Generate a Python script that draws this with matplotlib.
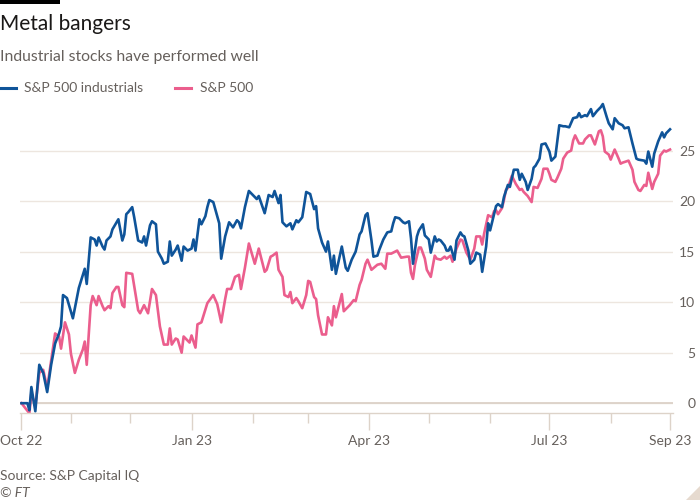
import matplotlib
matplotlib.use("Agg")
import matplotlib.pyplot as plt
from matplotlib.lines import Line2D
from matplotlib.patches import Rectangle, Polygon
import pandas as pd

plt.rcParams['font.family'] = ['Lato', 'DejaVu Sans']

# S&P 500 industrials, % change since start
ind_dates = [
    "2022-10-07", "2022-10-10", "2022-10-11", "2022-10-12", "2022-10-14", "2022-10-16", "2022-10-18",
    "2022-10-20", "2022-10-22", "2022-10-24", "2022-10-26", "2022-10-27", "2022-10-28", "2022-10-30",
    "2022-11-02", "2022-11-05", "2022-11-08", "2022-11-09", "2022-11-11", "2022-11-13", "2022-11-14",
    "2022-11-15", "2022-11-17", "2022-11-18", "2022-11-19", "2022-11-21", "2022-11-22", "2022-11-25",
    "2022-11-27", "2022-11-28", "2022-11-29", "2022-11-30", "2022-12-02", "2022-12-03", "2022-12-05",
    "2022-12-07", "2022-12-08", "2022-12-09", "2022-12-11", "2022-12-12", "2022-12-14", "2022-12-15",
    "2022-12-17", "2022-12-18", "2022-12-20", "2022-12-21", "2022-12-22", "2022-12-24", "2022-12-25",
    "2022-12-27", "2022-12-28", "2022-12-30", "2023-01-01", "2023-01-02", "2023-01-03", "2023-01-05",
    "2023-01-06", "2023-01-08", "2023-01-09", "2023-01-10", "2023-01-12", "2023-01-13", "2023-01-15",
    "2023-01-16", "2023-01-18", "2023-01-20", "2023-01-22", "2023-01-24", "2023-01-25", "2023-01-26",
    "2023-01-28", "2023-01-30", "2023-02-02", "2023-02-03", "2023-02-04", "2023-02-07", "2023-02-09",
    "2023-02-11", "2023-02-12", "2023-02-14", "2023-02-15", "2023-02-16", "2023-02-18", "2023-02-20",
    "2023-02-21", "2023-02-23", "2023-02-24", "2023-02-26", "2023-02-28", "2023-03-02", "2023-03-04",
    "2023-03-05", "2023-03-06", "2023-03-08", "2023-03-10", "2023-03-11", "2023-03-13", "2023-03-14",
    "2023-03-15", "2023-03-18", "2023-03-20", "2023-03-21", "2023-03-23", "2023-03-25", "2023-03-27",
    "2023-03-28", "2023-03-30", "2023-03-31", "2023-04-02", "2023-04-03", "2023-04-05", "2023-04-06",
    "2023-04-08", "2023-04-10", "2023-04-12", "2023-04-13", "2023-04-14", "2023-04-16", "2023-04-18",
    "2023-04-19", "2023-04-21", "2023-04-22", "2023-04-23", "2023-04-25", "2023-04-26", "2023-04-28",
    "2023-04-29", "2023-05-01", "2023-05-02", "2023-05-04", "2023-05-05", "2023-05-06", "2023-05-07",
    "2023-05-09", "2023-05-10", "2023-05-11", "2023-05-12", "2023-05-14", "2023-05-15", "2023-05-17",
    "2023-05-18", "2023-05-19", "2023-05-21", "2023-05-22", "2023-05-24", "2023-05-25", "2023-05-27",
    "2023-05-28", "2023-05-30", "2023-05-31", "2023-06-01", "2023-06-02", "2023-06-04", "2023-06-05",
    "2023-06-07", "2023-06-08", "2023-06-10", "2023-06-11", "2023-06-13", "2023-06-15", "2023-06-16",
    "2023-06-17", "2023-06-19", "2023-06-20", "2023-06-22", "2023-06-23", "2023-06-24", "2023-06-26",
    "2023-06-27", "2023-06-29", "2023-07-01", "2023-07-02", "2023-07-04", "2023-07-06", "2023-07-08",
    "2023-07-09", "2023-07-11", "2023-07-13", "2023-07-15", "2023-07-16", "2023-07-17", "2023-07-19",
    "2023-07-20", "2023-07-22", "2023-07-23", "2023-07-25", "2023-07-27", "2023-07-28", "2023-07-30",
    "2023-07-31", "2023-08-02", "2023-08-03", "2023-08-05", "2023-08-07", "2023-08-08", "2023-08-10",
    "2023-08-12", "2023-08-14", "2023-08-15", "2023-08-18", "2023-08-19", "2023-08-20", "2023-08-22",
    "2023-08-23", "2023-08-25", "2023-08-27", "2023-08-28", "2023-08-29", "2023-08-31",
]
ind_values = [
    0.0, 0.0, -0.7, 1.6, -0.8, 3.8, 3.0,
    1.1, 3.8, 5.9, 6.9, 7.6, 10.7, 10.4,
    8.4, 11.4, 13.3, 11.8, 16.4, 16.2, 15.6,
    16.4, 15.5, 15.2, 16.1, 16.5, 17.2, 18.2,
    16.1, 16.7, 18.7, 18.9, 19.4, 18.4, 16.1,
    15.9, 16.5, 15.6, 17.6, 18.0, 17.7, 15.0,
    14.3, 13.8, 14.0, 16.0, 14.6, 15.2, 15.6,
    14.1, 15.5, 15.1, 15.3, 16.2, 15.1, 18.2,
    17.7, 18.5, 19.4, 20.1, 19.9, 19.2, 17.8,
    14.3, 16.5, 17.9, 17.4, 18.1, 17.9, 17.3,
    19.4, 21.0, 20.4, 20.2, 20.5, 18.8, 20.6,
    20.4, 21.0, 19.8, 20.6, 17.9, 17.5, 17.8,
    17.2, 18.1, 17.9, 18.4, 20.9, 20.7, 19.2,
    19.5, 17.3, 15.9, 15.0, 16.0, 13.2, 14.6,
    12.8, 15.5, 13.4, 13.1, 14.2, 15.0, 16.7,
    17.0, 18.6, 18.8, 16.1, 14.5, 14.6, 15.2,
    16.2, 16.9, 17.0, 17.8, 18.4, 18.3, 17.9,
    17.8, 18.0, 16.3, 13.8, 16.5, 17.1, 17.7,
    16.6, 16.2, 14.9, 16.5, 16.0, 16.2, 16.1,
    15.6, 15.1, 15.1, 15.5, 14.2, 16.1, 16.9,
    16.6, 16.5, 15.1, 13.8, 14.2, 14.9, 14.7,
    13.0, 15.5, 17.8, 17.1, 17.9, 19.5, 19.7,
    19.4, 20.4, 21.6, 21.4, 23.1, 23.1, 22.1,
    22.7, 21.9, 21.1, 22.2, 23.3, 23.5, 24.2,
    25.6, 25.7, 24.9, 24.0, 24.4, 27.5, 27.4,
    27.4, 27.3, 28.2, 28.3, 28.7, 28.3, 28.5,
    28.4, 29.1, 28.4, 28.9, 29.3, 29.6, 28.3,
    27.7, 27.1, 28.2, 27.7, 27.5, 27.2, 27.3,
    25.7, 24.2, 24.1, 24.0, 23.7, 24.9, 23.4,
    24.7, 25.9, 26.8, 26.3, 26.7, 27.1,
]

# S&P 500, % change since start
spx_dates = [
    "2022-10-07", "2022-10-09", "2022-10-11", "2022-10-12", "2022-10-14", "2022-10-16", "2022-10-18",
    "2022-10-20", "2022-10-24", "2022-10-26", "2022-10-27", "2022-10-29", "2022-10-31", "2022-11-01",
    "2022-11-03", "2022-11-05", "2022-11-07", "2022-11-08", "2022-11-09", "2022-11-11", "2022-11-12",
    "2022-11-14", "2022-11-15", "2022-11-17", "2022-11-18", "2022-11-20", "2022-11-21", "2022-11-22",
    "2022-11-24", "2022-11-25", "2022-11-27", "2022-11-28", "2022-11-29", "2022-12-02", "2022-12-05",
    "2022-12-06", "2022-12-08", "2022-12-10", "2022-12-12", "2022-12-14", "2022-12-16", "2022-12-18",
    "2022-12-20", "2022-12-21", "2022-12-22", "2022-12-24", "2022-12-25", "2022-12-27", "2022-12-28",
    "2022-12-31", "2023-01-01", "2023-01-03", "2023-01-04", "2023-01-06", "2023-01-09", "2023-01-12",
    "2023-01-14", "2023-01-16", "2023-01-18", "2023-01-19", "2023-01-21", "2023-01-23", "2023-01-25",
    "2023-01-26", "2023-01-28", "2023-01-30", "2023-02-02", "2023-02-04", "2023-02-07", "2023-02-08",
    "2023-02-10", "2023-02-11", "2023-02-13", "2023-02-14", "2023-02-16", "2023-02-17", "2023-02-19",
    "2023-02-20", "2023-02-21", "2023-02-23", "2023-02-24", "2023-02-26", "2023-02-28", "2023-03-01",
    "2023-03-02", "2023-03-04", "2023-03-05", "2023-03-06", "2023-03-08", "2023-03-10", "2023-03-11",
    "2023-03-13", "2023-03-14", "2023-03-15", "2023-03-18", "2023-03-19", "2023-03-22", "2023-03-24",
    "2023-03-25", "2023-03-27", "2023-03-28", "2023-03-30", "2023-03-31", "2023-04-02", "2023-04-05",
    "2023-04-07", "2023-04-09", "2023-04-10", "2023-04-12", "2023-04-14", "2023-04-15", "2023-04-17",
    "2023-04-20", "2023-04-21", "2023-04-22", "2023-04-23", "2023-04-24", "2023-04-26", "2023-04-27",
    "2023-04-29", "2023-04-30", "2023-05-02", "2023-05-04", "2023-05-05", "2023-05-07", "2023-05-09",
    "2023-05-10", "2023-05-12", "2023-05-13", "2023-05-15", "2023-05-17", "2023-05-18", "2023-05-20",
    "2023-05-22", "2023-05-24", "2023-05-25", "2023-05-27", "2023-05-28", "2023-05-29", "2023-05-31",
    "2023-06-02", "2023-06-03", "2023-06-04", "2023-06-05", "2023-06-07", "2023-06-08", "2023-06-09",
    "2023-06-10", "2023-06-12", "2023-06-14", "2023-06-16", "2023-06-17", "2023-06-18", "2023-06-20",
    "2023-06-22", "2023-06-23", "2023-06-25", "2023-06-27", "2023-06-28", "2023-06-30", "2023-07-01",
    "2023-07-02", "2023-07-04", "2023-07-05", "2023-07-07", "2023-07-08", "2023-07-10", "2023-07-12",
    "2023-07-13", "2023-07-14", "2023-07-16", "2023-07-18", "2023-07-19", "2023-07-21", "2023-07-22",
    "2023-07-24", "2023-07-26", "2023-07-27", "2023-07-28", "2023-07-29", "2023-07-31", "2023-08-01",
    "2023-08-03", "2023-08-05", "2023-08-06", "2023-08-07", "2023-08-10", "2023-08-12", "2023-08-13",
    "2023-08-15", "2023-08-16", "2023-08-18", "2023-08-19", "2023-08-20", "2023-08-22", "2023-08-23",
    "2023-08-25", "2023-08-26", "2023-08-28", "2023-08-29", "2023-08-31",
]
spx_values = [
    0.0, -0.5, -1.0, 1.0, -0.3, 3.0, 3.3,
    1.5, 6.9, 6.6, 5.4, 8.0, 6.8, 4.9,
    3.0, 4.3, 5.3, 6.1, 3.8, 9.7, 10.6,
    9.7, 10.6, 9.6, 9.2, 9.6, 9.4, 10.9,
    11.5, 11.5, 9.7, 9.5, 12.9, 12.8, 9.2,
    8.9, 9.7, 8.9, 11.3, 10.7, 7.6, 5.8,
    5.8, 7.4, 5.8, 6.4, 6.3, 5.0, 6.6,
    6.0, 6.7, 5.5, 7.8, 8.0, 9.9, 10.7,
    9.8, 8.0, 10.3, 11.3, 11.3, 12.5, 12.7,
    11.3, 13.4, 15.8, 13.8, 15.3, 13.0, 13.2,
    14.5, 14.6, 14.9, 13.2, 12.5, 10.7, 10.5,
    11.0, 9.9, 10.4, 10.1, 9.4, 10.7, 12.1,
    12.0, 10.5, 10.3, 8.7, 6.8, 6.8, 8.5,
    7.7, 9.6, 8.5, 10.8, 9.1, 9.7, 10.2,
    10.1, 11.7, 12.2, 13.8, 14.2, 13.2, 13.7,
    13.8, 13.3, 14.8, 14.8, 15.0, 15.1, 14.4,
    14.5, 14.5, 12.9, 12.3, 13.7, 15.4, 15.4,
    14.3, 13.2, 12.5, 14.6, 14.3, 14.2, 14.5,
    14.3, 14.6, 14.0, 15.3, 16.2, 16.1, 14.9,
    14.2, 15.3, 16.5, 16.5, 15.7, 16.8, 18.6,
    18.4, 19.0, 19.1, 18.7, 19.3, 20.1, 21.1,
    21.3, 22.5, 21.7, 21.1, 21.2, 20.9, 20.5,
    19.9, 21.4, 21.3, 22.2, 23.2, 23.2, 22.7,
    22.1, 21.9, 22.3, 23.2, 24.2, 24.8, 25.0,
    26.0, 26.5, 25.7, 25.7, 26.1, 26.5, 26.5,
    25.6, 26.9, 27.0, 26.4, 24.9, 24.6, 24.1,
    25.1, 24.2, 23.7, 23.8, 24.0, 23.1, 21.9,
    21.1, 21.0, 21.6, 21.5, 22.8, 21.2, 21.9,
    22.7, 24.5, 25.0, 24.9, 25.1,
]

tick_dates = ["2022-10-07", "2023-01-01", "2023-04-01", "2023-07-01", "2023-08-31"]
tick_labels = ["Oct 22", "Jan 23", "Apr 23", "Jul 23", "Sep 23"]
minor_dates = ["2022-11-01", "2022-12-01", "2023-02-01", "2023-03-01",
               "2023-05-01", "2023-06-01", "2023-08-01"]
y_ticks = [0, 5, 10, 15, 20, 25]

blue = "#0F5499"
pink = "#EB5E8D"
grey_text = "#66605C"
grid_col = "#EDE6DF"
axis_col = "#DDD3C9"

fig = plt.figure(figsize=(7, 5), dpi=100)
fig.patch.set_facecolor("white")
ax = fig.add_axes([20 / 700, 1 - 413 / 500, 653 / 700, 313 / 500])

ax.plot(pd.to_datetime(spx_dates), spx_values, color=pink, lw=1.9, solid_joinstyle="round")
ax.plot(pd.to_datetime(ind_dates), ind_values, color=blue, lw=1.9, solid_joinstyle="round")

start = pd.Timestamp(ind_dates[0])
end = pd.Timestamp(ind_dates[-1])
ax.set_xlim(start - pd.Timedelta(days=0.75), end + pd.Timedelta(days=1.5))
ax.set_ylim(-0.97, 30.0)

# y axis on the right
ax.yaxis.tick_right()
ax.set_yticks(y_ticks)
ax.set_yticklabels([str(v) for v in y_ticks])
ax.tick_params(axis="y", length=0, pad=16, labelsize=10, labelcolor=grey_text)
for lab in ax.get_yticklabels():
    lab.set_horizontalalignment("right")
ax.grid(axis="y", color=grid_col, lw=1)
ax.axhline(0, color="#DCD2C8", lw=1.3, zorder=1)

# x axis
ax.set_xticks(pd.to_datetime(tick_dates))
ax.set_xticklabels(tick_labels)
ax.set_xticks(pd.to_datetime(minor_dates), minor=True)
ax.tick_params(axis="x", which="major", length=12, width=1, color=axis_col,
               labelsize=10, labelcolor=grey_text, pad=4)
ax.tick_params(axis="x", which="minor", length=7.5, width=1, color=axis_col)

for s in ["top", "right", "left"]:
    ax.spines[s].set_visible(False)
ax.spines["bottom"].set_color(axis_col)
ax.spines["bottom"].set_linewidth(1)
ax.set_axisbelow(True)

# header
fig.add_artist(Rectangle((0, 1 - 4 / 500), 60 / 700, 4 / 500, transform=fig.transFigure,
                         color="black", lw=0))
fig.text(0, 1 - 24 / 500, "Metal bangers", fontsize=15, color="#1a1817", va="center")
fig.text(0, 1 - 57 / 500, "Industrial stocks have performed well", fontsize=11.3,
         color=grey_text, va="center")

# legend
ly = 1 - 88 / 500
fig.add_artist(Line2D([0, 16 / 700], [ly, ly], transform=fig.transFigure, color=blue, lw=2.2))
fig.text(24 / 700, ly, "S&P 500 industrials", fontsize=10, color=grey_text, va="center")
fig.add_artist(Line2D([175 / 700, 191 / 700], [ly, ly], transform=fig.transFigure, color=pink, lw=2.2))
fig.text(200 / 700, ly, "S&P 500", fontsize=10, color=grey_text, va="center")

# footer
fig.text(0, 1 - 476 / 500, "Source: S&P Capital IQ", fontsize=10, color=grey_text, va="center")
fig.text(0, 1 - 493 / 500, "© FT", fontsize=10, color=grey_text, va="center", style="italic")

# corner mark
fig.add_artist(Polygon([[1, 0], [1, 14 / 500], [686 / 700, 0]], closed=True,
                       transform=fig.transFigure, color="#E6DACF", lw=0))

fig.savefig("out.png", dpi=100, facecolor="white")
